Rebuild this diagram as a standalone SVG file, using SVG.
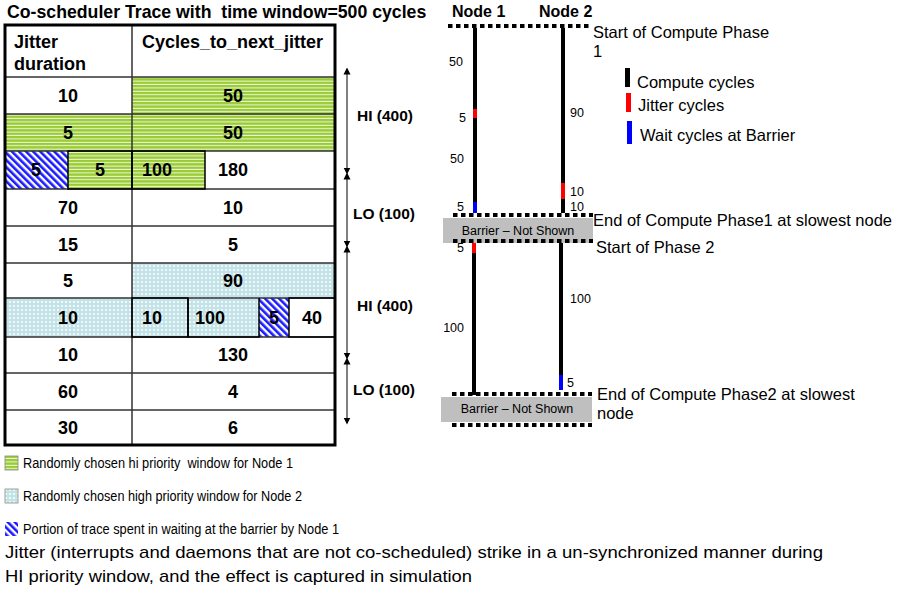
<svg xmlns="http://www.w3.org/2000/svg" width="903" height="598" viewBox="0 0 903 598">
<style>
.t{font-family:"Liberation Sans",Arial,sans-serif;fill:#000;white-space:pre}
.b{font-weight:bold}
.cell{font-family:"Liberation Sans",Arial,sans-serif;font-weight:bold;font-size:18px;text-anchor:middle}
.cl{font-family:"Liberation Sans",Arial,sans-serif;font-weight:bold;font-size:18px}
.grid{stroke:#333;stroke-width:1.5;fill:none}
.box{stroke:#000;stroke-width:1.5;fill:none}
.lab{font-family:"Liberation Sans",Arial,sans-serif;font-size:12.5px}
.big{font-family:"Liberation Sans",Arial,sans-serif;font-size:16.5px}
.dot{stroke:#000;stroke-width:4;stroke-dasharray:4.5 3.5;fill:none}
.arr{stroke:#000;stroke-width:1;marker-start:url(#ah);marker-end:url(#ah)}
</style>
<defs>
<pattern id="green" width="6" height="3.4" patternUnits="userSpaceOnUse"><rect width="6" height="3.4" fill="#99cc33"/><rect y="2.4" width="6" height="1" fill="#ffffff" opacity="0.85"/></pattern>
<pattern id="dots" width="4" height="4" patternUnits="userSpaceOnUse"><rect width="4" height="4" fill="#c4e3e8"/><rect x="1" y="1" width="2" height="2" fill="#ffffff" opacity="0.75"/></pattern>
<pattern id="hatch" width="5" height="5" patternUnits="userSpaceOnUse" patternTransform="rotate(-45)"><rect width="5" height="5" fill="#fff"/><rect width="2.6" height="5" fill="#1a1aff"/></pattern>
<marker id="ah" viewBox="0 0 10 10" refX="5" refY="5" markerWidth="7" markerHeight="8" orient="auto-start-reverse" markerUnits="userSpaceOnUse"><path d="M0,0 L10,5 L0,10 z" fill="#000"/></marker>
</defs>
<rect width="903" height="598" fill="#fff"/>

<text class="t b" x="7" y="18" font-size="17.7">Co-scheduler Trace with  time window=500 cycles</text>

<g id="table">
<rect x="132" y="77" width="203" height="37" fill="url(#green)"/>
<rect x="5" y="114" width="127" height="37" fill="url(#green)"/>
<rect x="132" y="114" width="203" height="37" fill="url(#green)"/>
<rect x="5" y="151" width="63" height="38" fill="url(#hatch)"/>
<rect x="68" y="151" width="64" height="38" fill="url(#green)"/>
<rect x="132" y="151" width="73" height="38" fill="url(#green)"/>
<rect x="132" y="263" width="203" height="35" fill="url(#dots)"/>
<rect x="5" y="298" width="127" height="39" fill="url(#dots)"/>
<rect x="132" y="298" width="127" height="39" fill="url(#dots)"/>
<rect x="259" y="298" width="30" height="39" fill="url(#hatch)"/>
<path class="grid" d="M5,77 H335 M5,114 H335 M5,151 H335 M5,189 H335 M5,226 H335 M5,263 H335 M5,298 H335 M5,337 H335 M5,373 H335 M5,410 H335 M132,25 V445"/>
<rect class="box" x="68" y="151" width="64" height="38"/>
<rect class="box" x="132" y="151" width="73" height="38"/>
<rect class="box" x="132" y="298" width="56" height="39"/>
<path class="box" d="M188,298 V337 H259 V298"/>
<rect class="box" x="289" y="298" width="46" height="39"/>
<rect x="5" y="25" width="330" height="420" fill="none" stroke="#000" stroke-width="3"/>
<text class="cl" x="14" y="48">Jitter</text>
<text class="cl" x="14" y="70">duration</text>
<text class="cl" x="142" y="48">Cycles_to_next_jitter</text>
<text class="cell" x="68" y="102">10</text><text class="cell" x="233" y="102">50</text>
<text class="cell" x="68" y="139">5</text><text class="cell" x="233" y="139">50</text>
<text class="cell" x="36" y="176">5</text><text class="cell" x="100" y="176">5</text><text class="cl" x="142" y="176">100</text><text class="cell" x="233" y="176">180</text>
<text class="cell" x="68" y="214">70</text><text class="cell" x="233" y="214">10</text>
<text class="cell" x="68" y="251">15</text><text class="cell" x="233" y="251">5</text>
<text class="cell" x="68" y="287">5</text><text class="cell" x="233" y="287">90</text>
<text class="cell" x="68" y="324">10</text><text class="cl" x="142" y="324">10</text><text class="cl" x="195" y="324">100</text><text class="cell" x="274" y="324">5</text><text class="cell" x="312" y="324">40</text>
<text class="cell" x="68" y="361">10</text><text class="cell" x="233" y="361">130</text>
<text class="cell" x="68" y="398">60</text><text class="cell" x="233" y="398">4</text>
<text class="cell" x="68" y="434">30</text><text class="cell" x="233" y="434">6</text>
</g>

<g id="connectors">
<line class="arr" x1="347" y1="71" x2="347" y2="171"/>
<line class="arr" x1="347" y1="176" x2="347" y2="244"/>
<line class="arr" x1="347" y1="249" x2="347" y2="356"/>
<line class="arr" x1="347" y1="361" x2="347" y2="421"/>
</g>
<g id="range-labels">
<text class="t b" x="357" y="121" font-size="15.5">HI (400)</text>
<text class="t b" x="353" y="219" font-size="15.5">LO (100)</text>
<text class="t b" x="357" y="311" font-size="15.5">HI (400)</text>
<text class="t b" x="353" y="395" font-size="15.5">LO (100)</text>
</g>

<g id="nodes">
<text class="t b" x="452" y="17" font-size="16">Node 1</text>
<text class="t b" x="539" y="17" font-size="16">Node 2</text>
<line class="dot" x1="448" y1="26" x2="590" y2="26"/>
<text class="big" x="593" y="38">Start of Compute Phase</text>
<text class="big" x="593" y="57">1</text>
</g>

<g id="node1-phase1">
<rect x="473" y="28" width="4" height="185" fill="#000"/>
<rect x="473" y="109" width="4" height="9" fill="#f00"/>
<rect x="473" y="202" width="4" height="11" fill="#00f"/>
<text class="lab" x="463" y="66" text-anchor="end">50</text>
<text class="lab" x="466" y="122" text-anchor="end">5</text>
<text class="lab" x="464" y="163" text-anchor="end">50</text>
<text class="lab" x="464" y="211" text-anchor="end">5</text>
</g>
<g id="node2-phase1">
<rect x="561" y="28" width="4" height="185" fill="#000"/>
<rect x="561" y="183" width="4" height="16" fill="#f00"/>
<text class="lab" x="570" y="117">90</text>
<text class="lab" x="570" y="196">10</text>
<text class="lab" x="570" y="211">10</text>
</g>

<g id="barrier1">
<rect x="443" y="218" width="150" height="25" fill="#bfbfbf"/>
<line class="dot" x1="453" y1="215" x2="593" y2="215"/>
<line class="dot" x1="453" y1="241" x2="593" y2="241"/>
<text class="lab" x="518" y="235" text-anchor="middle">Barrier – Not Shown</text>
<text class="big" x="593" y="226">End of Compute Phase1 at slowest node</text>
<text class="big" x="596" y="253">Start of Phase 2</text>
</g>

<g id="node1-phase2">
<rect x="472" y="243" width="4" height="152" fill="#000"/>
<rect x="472" y="243" width="4" height="10" fill="#f00"/>
<text class="lab" x="464" y="252" text-anchor="end">5</text>
<text class="lab" x="464" y="332" text-anchor="end">100</text>
</g>
<g id="node2-phase2">
<rect x="559" y="243" width="4" height="132" fill="#000"/>
<rect x="559" y="375" width="4" height="15" fill="#00f"/>
<text class="lab" x="570" y="303">100</text>
<text class="lab" x="567" y="387">5</text>
</g>

<g id="barrier2">
<line class="dot" x1="452" y1="394" x2="592" y2="394"/>
<rect x="441" y="397" width="151" height="25" fill="#bfbfbf"/>
<line class="dot" x1="452" y1="425" x2="592" y2="425"/>
<text class="lab" x="517" y="413" text-anchor="middle">Barrier – Not Shown</text>
<text class="big" x="597" y="400">End of Compute Phase2 at slowest</text>
<text class="big" x="597" y="419">node</text>
</g>

<g id="legend-right">
<rect x="625" y="68" width="5" height="19" fill="#000"/>
<rect x="626" y="93" width="5" height="19" fill="#f00"/>
<rect x="627" y="121" width="5" height="23" fill="#00f"/>
<text class="big" x="637" y="88">Compute cycles</text>
<text class="big" x="638" y="111">Jitter cycles</text>
<text class="big" x="640" y="141">Wait cycles at Barrier</text>
</g>

<g id="legend-bottom">
<rect x="5" y="456" width="13" height="14" fill="url(#green)" stroke="#888" stroke-width="0.8"/>
<text class="t" x="23" y="468" font-size="14" textLength="270" lengthAdjust="spacingAndGlyphs">Randomly chosen hi priority  window for Node 1</text>
<rect x="5" y="489" width="13" height="14" fill="url(#dots)" stroke="#888" stroke-width="0.8"/>
<text class="t" x="23" y="501" font-size="14" textLength="279" lengthAdjust="spacingAndGlyphs">Randomly chosen high priority window for Node 2</text>
<rect x="5" y="522" width="13" height="14" fill="url(#hatch)"/>
<text class="t" x="23" y="534" font-size="14" textLength="316" lengthAdjust="spacingAndGlyphs">Portion of trace spent in waiting at the barrier by Node 1</text>
<text class="t" x="5" y="558" font-size="17" textLength="818" lengthAdjust="spacingAndGlyphs">Jitter (interrupts and daemons that are not co-scheduled) strike in a un-synchronized manner during</text>
<text class="t" x="5" y="582" font-size="17" textLength="467" lengthAdjust="spacingAndGlyphs">HI priority window, and the effect is captured in simulation</text>
</g>
</svg>
